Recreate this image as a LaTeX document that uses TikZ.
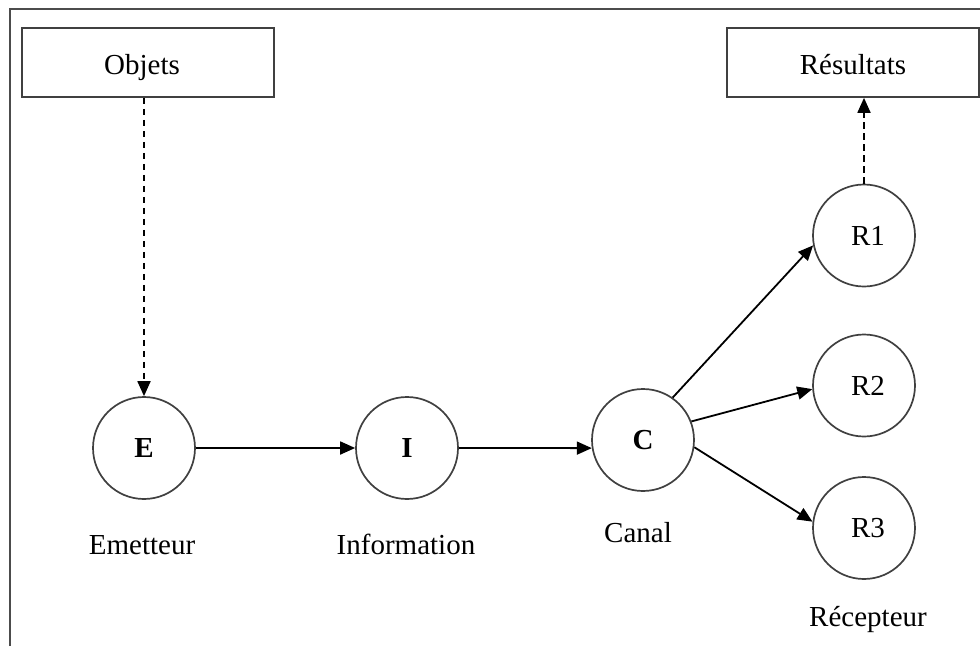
\documentclass[tikz,border=0pt]{standalone}
\usepackage{fontspec}
\setmainfont{Liberation Serif}
\usetikzlibrary{arrows.meta}
\begin{document}
\begin{tikzpicture}[x=1pt,y=-1pt,
  txt/.style={font=\fontsize{29}{34}\selectfont},
  box/.style={draw=black!75,line width=1.7pt,minimum width=252pt,minimum height=69pt,inner sep=0pt,
    text height=26pt,text depth=3pt,txt},
  station/.style={circle,draw=black!75,line width=1.7pt,minimum size=102pt,inner sep=0pt,txt},
  flow/.style={draw=black,line width=1.8pt,-{Triangle[length=15pt,width=13pt]}},
  feed/.style={flow,dash pattern=on 6.5pt off 4.5pt},
  caption/.style={txt,anchor=base}]
  \useasboundingbox (0,0) rectangle (980,646);
  % frame
  \draw[black!70,line width=1.8pt] (10,646) -- (10,9) -- (980,9);

  % boxes
  \node[box] (obj) at (148,62.5) {Objets\hspace*{12pt}};
  \node[box] (res) at (853,62.5) {Résultats};

  % chain of stations
  \node[station] (E) at (144,448) {\textbf{E}};
  \node[station] (I) at (407,448) {\textbf{I}};
  \node[station] (C) at (643,440) {\textbf{C}};
  \node[station] (R1) at (864,235.5) {\hspace*{8pt}R1};
  \node[station] (R2) at (864,385.5) {\hspace*{8pt}R2};
  \node[station] (R3) at (864,528) {\hspace*{8pt}R3};

  % captions
  \node[caption] (lE) at (142,554) {Emetteur};
  \node[caption] (lI) at (406,554) {Information};
  \node[caption] (lC) at (638,542) {Canal};
  \node[caption] (lR) at (868,626) {Récepteur};

  % connectors
  \draw[feed] (obj.south -| E.north) -- (E.north);
  \draw[feed] (R1.north) -- (R1.north |- res.south);
  \draw[flow] (E.east) -- (I.west);
  \draw[flow] (I.east) -- (C.189);
  \draw[flow] (C.55) -- (R1.191);
  \draw[flow] (C.21) -- (R2.184);
  \draw[flow] (C.-8) -- (R3.173);
\end{tikzpicture}
\end{document}
